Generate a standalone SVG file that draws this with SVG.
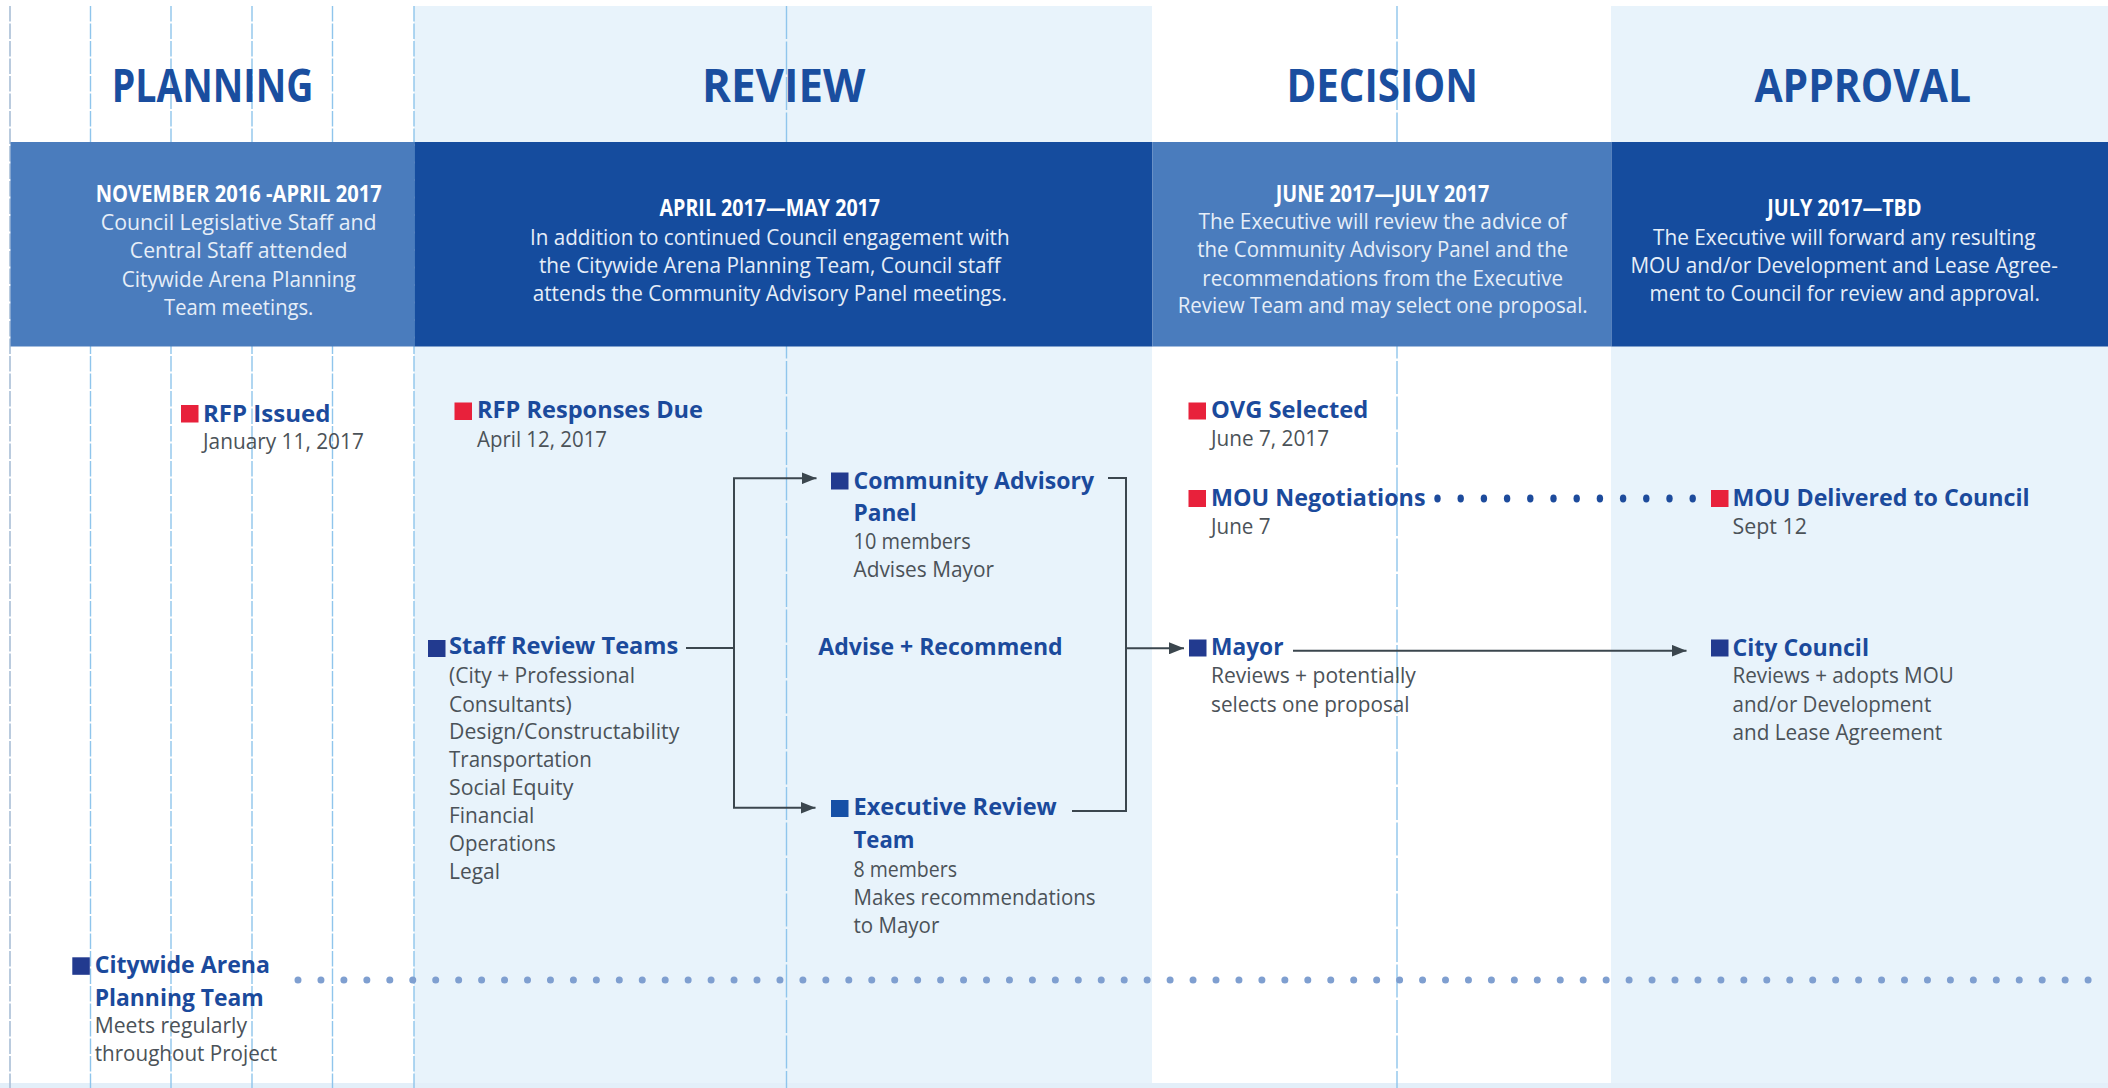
<svg xmlns="http://www.w3.org/2000/svg" width="2108" height="1088" viewBox="0 0 2108 1088">
  <defs>
    <style>
      .title { font-family: "Open Sans", "Liberation Sans", sans-serif; font-weight: 700; font-size: 46px; fill: #1a4e9f; text-anchor: middle; }
      .bandHead { font-family: "Open Sans", "Liberation Sans", sans-serif; font-weight: 700; font-size: 22.5px; fill: #ffffff; text-anchor: middle; }
      .bandBody { font-family: "Open Sans", "Liberation Sans", sans-serif; font-weight: 400; font-size: 22.5px; fill: #e6eef8; text-anchor: middle; }
      .label { font-family: "Open Sans", "Liberation Sans", sans-serif; font-weight: 700; font-size: 23px; fill: #1b4a9c; }
      .sub { font-family: "Open Sans", "Liberation Sans", sans-serif; font-weight: 400; font-size: 21.5px; fill: #4b5258; }
      .guide { stroke: #8fc5ec; stroke-width: 1.4; stroke-dasharray: 15.5 2; fill: none; }
      .guideLong { stroke: #8fc5ec; stroke-width: 1.4; stroke-dasharray: 33 2.5; fill: none; }
      .edge { stroke: #a9bfd6; stroke-width: 1.6; stroke-dasharray: 15.5 2; fill: none; }
      .red { fill: #e8213b; }
      .navy { fill: #223a8f; }
      .blue { fill: #1650a6; }
      .conn { stroke: #3b464e; stroke-width: 2; fill: none; }
    </style>
    <marker id="arrow" markerUnits="userSpaceOnUse" markerWidth="15" markerHeight="12" refX="15" refY="6" orient="auto">
      <path d="M0,0 L15,6 L0,12 z" fill="#3b464e"/>
    </marker>
  </defs>

  <!-- page and phase columns -->
  <rect x="0" y="0" width="2108" height="1088" fill="#ffffff"/>
  <rect x="414" y="6" width="738" height="1082" fill="#e8f3fb"/>
  <rect x="1611" y="6" width="497" height="1082" fill="#e8f3fb"/>
  <rect x="0" y="1083" width="2108" height="5" fill="#e3eff9"/>

  <!-- guide lines -->
  <g id="guides">
    <line class="edge" x1="10" y1="6" x2="10" y2="1088"/>
    <line class="guide" x1="90.5" y1="6" x2="90.5" y2="1088"/>
    <line class="guide" x1="171" y1="6" x2="171" y2="1088"/>
    <line class="guide" x1="252" y1="6" x2="252" y2="1088"/>
    <line class="guide" x1="332.5" y1="6" x2="332.5" y2="1088"/>
    <line class="guide" x1="414" y1="6" x2="414" y2="1088"/>
    <line class="guideLong" x1="786.5" y1="6" x2="786.5" y2="1088"/>
    <line class="guideLong" x1="1397" y1="6" x2="1397" y2="1088"/>
  </g>

  <!-- phase titles -->
  <g id="titles">
    <text class="title" x="212.5" y="101.5" textLength="201.6" lengthAdjust="spacingAndGlyphs">PLANNING</text>
    <text class="title" x="783.7" y="101.5" textLength="163.3" lengthAdjust="spacingAndGlyphs">REVIEW</text>
    <text class="title" x="1382.2" y="101.5" textLength="191.6" lengthAdjust="spacingAndGlyphs">DECISION</text>
    <text class="title" x="1862.7" y="101.5" textLength="216.6" lengthAdjust="spacingAndGlyphs">APPROVAL</text>
  </g>

  <!-- phase description bands -->
  <g id="band-planning">
    <rect x="10.5" y="142" width="404" height="204.5" fill="#4a7cbd"/>
    <text class="bandHead" x="238.7" y="202.3" textLength="286" lengthAdjust="spacingAndGlyphs">NOVEMBER 2016 -APRIL 2017</text>
    <text class="bandBody" x="238.7" y="230" textLength="275.7" lengthAdjust="spacingAndGlyphs">Council Legislative Staff and</text>
    <text class="bandBody" x="238.7" y="258.3" textLength="217.7" lengthAdjust="spacingAndGlyphs">Central Staff attended</text>
    <text class="bandBody" x="238.7" y="286.7" textLength="234" lengthAdjust="spacingAndGlyphs">Citywide Arena Planning</text>
    <text class="bandBody" x="238.7" y="315" textLength="149.3" lengthAdjust="spacingAndGlyphs">Team meetings.</text>
  </g>
  <g id="band-review">
    <rect x="414.5" y="142" width="738" height="204.5" fill="#154c9e"/>
    <text class="bandHead" x="769.8" y="216" textLength="220.6" lengthAdjust="spacingAndGlyphs">APRIL 2017—MAY 2017</text>
    <text class="bandBody" x="769.8" y="244.5" textLength="479.7" lengthAdjust="spacingAndGlyphs">In addition to continued Council engagement with</text>
    <text class="bandBody" x="769.8" y="272.5" textLength="461.7" lengthAdjust="spacingAndGlyphs">the Citywide Arena Planning Team, Council staff</text>
    <text class="bandBody" x="769.8" y="300.5" textLength="474.3" lengthAdjust="spacingAndGlyphs">attends the Community Advisory Panel meetings.</text>
  </g>
  <g id="band-decision">
    <rect x="1152.5" y="142" width="459" height="204.5" fill="#4a7cbd"/>
    <text class="bandHead" x="1382.5" y="201.7" textLength="213.4" lengthAdjust="spacingAndGlyphs">JUNE 2017—JULY 2017</text>
    <text class="bandBody" x="1382.7" y="229.3" textLength="368.3" lengthAdjust="spacingAndGlyphs">The Executive will review the advice of</text>
    <text class="bandBody" x="1382.7" y="257.3" textLength="371" lengthAdjust="spacingAndGlyphs">the Community Advisory Panel and the</text>
    <text class="bandBody" x="1382.7" y="285.7" textLength="360.7" lengthAdjust="spacingAndGlyphs">recommendations from the Executive</text>
    <text class="bandBody" x="1382.7" y="313.3" textLength="410" lengthAdjust="spacingAndGlyphs">Review Team and may select one proposal.</text>
  </g>
  <g id="band-approval">
    <rect x="1611.5" y="142" width="496.5" height="204.5" fill="#154c9e"/>
    <text class="bandHead" x="1844.4" y="216" textLength="154.2" lengthAdjust="spacingAndGlyphs">JULY 2017—TBD</text>
    <text class="bandBody" x="1844.2" y="244.5" textLength="382.5" lengthAdjust="spacingAndGlyphs">The Executive will forward any resulting</text>
    <text class="bandBody" x="1844.2" y="272.5" textLength="427.5" lengthAdjust="spacingAndGlyphs">MOU and/or Development and Lease Agree-</text>
    <text class="bandBody" x="1844.7" y="300.5" textLength="390.2" lengthAdjust="spacingAndGlyphs">ment to Council for review and approval.</text>
  </g>

  <!-- connectors -->
  <g id="connectors">
    <path class="conn" d="M686,648 H734 V478.3 H816.5" marker-end="url(#arrow)"/>
    <path class="conn" d="M734,648 V807.8 H815.5" marker-end="url(#arrow)"/>
    <path class="conn" d="M1108,478 H1126 V811 H1072"/>
    <path class="conn" d="M1126,648.3 H1184" marker-end="url(#arrow)"/>
    <path class="conn" d="M1293,650.7 H1686.5" marker-end="url(#arrow)"/>
    <g id="mou-dots" fill="#1d4b9c">
      <ellipse cx="1437.5" cy="498.5" rx="3.2" ry="4"/>
      <ellipse cx="1460.7" cy="498.5" rx="3.2" ry="4"/>
      <ellipse cx="1483.9" cy="498.5" rx="3.2" ry="4"/>
      <ellipse cx="1507.1" cy="498.5" rx="3.2" ry="4"/>
      <ellipse cx="1530.3" cy="498.5" rx="3.2" ry="4"/>
      <ellipse cx="1553.5" cy="498.5" rx="3.2" ry="4"/>
      <ellipse cx="1576.7" cy="498.5" rx="3.2" ry="4"/>
      <ellipse cx="1599.9" cy="498.5" rx="3.2" ry="4"/>
      <ellipse cx="1623.1" cy="498.5" rx="3.2" ry="4"/>
      <ellipse cx="1646.3" cy="498.5" rx="3.2" ry="4"/>
      <ellipse cx="1669.5" cy="498.5" rx="3.2" ry="4"/>
      <ellipse cx="1692.7" cy="498.5" rx="3.2" ry="4"/>
    </g>
    <line id="arena-dots" x1="298" y1="980" x2="2090" y2="980" stroke="#7f9fd0" stroke-width="7" stroke-linecap="round" stroke-dasharray="0 22.95"/>
  </g>

  <!-- milestones and teams -->
  <g id="rfp-issued">
    <rect class="red" x="181" y="405" width="17.5" height="17.5"/>
    <text class="label" x="203" y="421.7" textLength="127.4" lengthAdjust="spacingAndGlyphs">RFP Issued</text>
    <text class="sub" x="203" y="449.3" textLength="160.8" lengthAdjust="spacingAndGlyphs">January 11, 2017</text>
  </g>
  <g id="rfp-responses">
    <rect class="red" x="454.5" y="402.5" width="17.5" height="17.5"/>
    <text class="label" x="477" y="418.3" textLength="226" lengthAdjust="spacingAndGlyphs">RFP Responses Due</text>
    <text class="sub" x="477" y="446.7" textLength="130" lengthAdjust="spacingAndGlyphs">April 12, 2017</text>
  </g>
  <g id="staff-review">
    <rect class="navy" x="428" y="640" width="17.5" height="17"/>
    <text class="label" x="449" y="654.3" textLength="229.3" lengthAdjust="spacingAndGlyphs">Staff Review Teams</text>
    <text class="sub" x="449" y="683.3" textLength="186" lengthAdjust="spacingAndGlyphs">(City + Professional</text>
    <text class="sub" x="449" y="711.5" textLength="122.7" lengthAdjust="spacingAndGlyphs">Consultants)</text>
    <text class="sub" x="449" y="739.3" textLength="230.3" lengthAdjust="spacingAndGlyphs">Design/Constructability</text>
    <text class="sub" x="449" y="767.2" textLength="142.7" lengthAdjust="spacingAndGlyphs">Transportation</text>
    <text class="sub" x="449" y="795.2" textLength="124.3" lengthAdjust="spacingAndGlyphs">Social Equity</text>
    <text class="sub" x="449" y="823.3" textLength="85.3" lengthAdjust="spacingAndGlyphs">Financial</text>
    <text class="sub" x="449" y="851.2" textLength="106.7" lengthAdjust="spacingAndGlyphs">Operations</text>
    <text class="sub" x="449" y="879.3" textLength="51" lengthAdjust="spacingAndGlyphs">Legal</text>
  </g>
  <g id="community-panel">
    <rect class="navy" x="831" y="472.5" width="17.5" height="17"/>
    <text class="label" x="853.5" y="489.3" textLength="240.5" lengthAdjust="spacingAndGlyphs">Community Advisory</text>
    <text class="label" x="853.5" y="520.7" textLength="63.2" lengthAdjust="spacingAndGlyphs">Panel</text>
    <text class="sub" x="853.5" y="549.3" textLength="117.2" lengthAdjust="spacingAndGlyphs">10 members</text>
    <text class="sub" x="853.5" y="577.3" textLength="140.5" lengthAdjust="spacingAndGlyphs">Advises Mayor</text>
  </g>
  <g id="advise-recommend">
    <text class="label" x="818.3" y="655" style="font-size:23.5px" textLength="244.4" lengthAdjust="spacingAndGlyphs">Advise + Recommend</text>
  </g>
  <g id="executive-review">
    <rect class="blue" x="831" y="800" width="17.5" height="17"/>
    <text class="label" x="853.5" y="815.4" textLength="203.2" lengthAdjust="spacingAndGlyphs">Executive Review</text>
    <text class="label" x="853.5" y="848" textLength="61" lengthAdjust="spacingAndGlyphs">Team</text>
    <text class="sub" x="853.5" y="876.6" textLength="103.5" lengthAdjust="spacingAndGlyphs">8 members</text>
    <text class="sub" x="853.5" y="905" textLength="242" lengthAdjust="spacingAndGlyphs">Makes recommendations</text>
    <text class="sub" x="853.5" y="933" textLength="85.8" lengthAdjust="spacingAndGlyphs">to Mayor</text>
  </g>
  <g id="ovg-selected">
    <rect class="red" x="1188.5" y="402.5" width="17.5" height="17"/>
    <text class="label" x="1211" y="418.3" textLength="157.3" lengthAdjust="spacingAndGlyphs">OVG Selected</text>
    <text class="sub" x="1211" y="446" textLength="118" lengthAdjust="spacingAndGlyphs">June 7, 2017</text>
  </g>
  <g id="mou-negotiations">
    <rect class="red" x="1188.5" y="490" width="17.5" height="17"/>
    <text class="label" x="1211" y="506" textLength="214.5" lengthAdjust="spacingAndGlyphs">MOU Negotiations</text>
    <text class="sub" x="1211" y="534.3" textLength="59.5" lengthAdjust="spacingAndGlyphs">June 7</text>
  </g>
  <g id="mayor">
    <rect class="navy" x="1189" y="639.5" width="17.5" height="17"/>
    <text class="label" x="1211" y="655" textLength="72.5" lengthAdjust="spacingAndGlyphs">Mayor</text>
    <text class="sub" x="1211" y="683.3" textLength="204.8" lengthAdjust="spacingAndGlyphs">Reviews + potentially</text>
    <text class="sub" x="1211" y="711.7" textLength="198.6" lengthAdjust="spacingAndGlyphs">selects one proposal</text>
  </g>
  <g id="mou-delivered">
    <rect class="red" x="1711" y="490" width="17.5" height="17"/>
    <text class="label" x="1732.5" y="506" textLength="297.2" lengthAdjust="spacingAndGlyphs">MOU Delivered to Council</text>
    <text class="sub" x="1732.5" y="534" textLength="74.5" lengthAdjust="spacingAndGlyphs">Sept 12</text>
  </g>
  <g id="city-council">
    <rect class="navy" x="1711" y="639.5" width="17.5" height="17"/>
    <text class="label" x="1732.5" y="655.5" textLength="136.5" lengthAdjust="spacingAndGlyphs">City Council</text>
    <text class="sub" x="1732.5" y="683.3" textLength="221.3" lengthAdjust="spacingAndGlyphs">Reviews + adopts MOU</text>
    <text class="sub" x="1732.5" y="711.7" textLength="198.7" lengthAdjust="spacingAndGlyphs">and/or Development</text>
    <text class="sub" x="1732.5" y="740" textLength="209.7" lengthAdjust="spacingAndGlyphs">and Lease Agreement</text>
  </g>
  <g id="arena-planning-team">
    <rect class="navy" x="72.3" y="957.3" width="17.5" height="17.5"/>
    <text class="label" x="94.7" y="973.3" textLength="175.3" lengthAdjust="spacingAndGlyphs">Citywide Arena</text>
    <text class="label" x="94.7" y="1006" textLength="169.1" lengthAdjust="spacingAndGlyphs">Planning Team</text>
    <text class="sub" x="94.7" y="1033.3" textLength="152.3" lengthAdjust="spacingAndGlyphs">Meets regularly</text>
    <text class="sub" x="94.7" y="1060.7" textLength="182.3" lengthAdjust="spacingAndGlyphs">throughout Project</text>
  </g>
</svg>
